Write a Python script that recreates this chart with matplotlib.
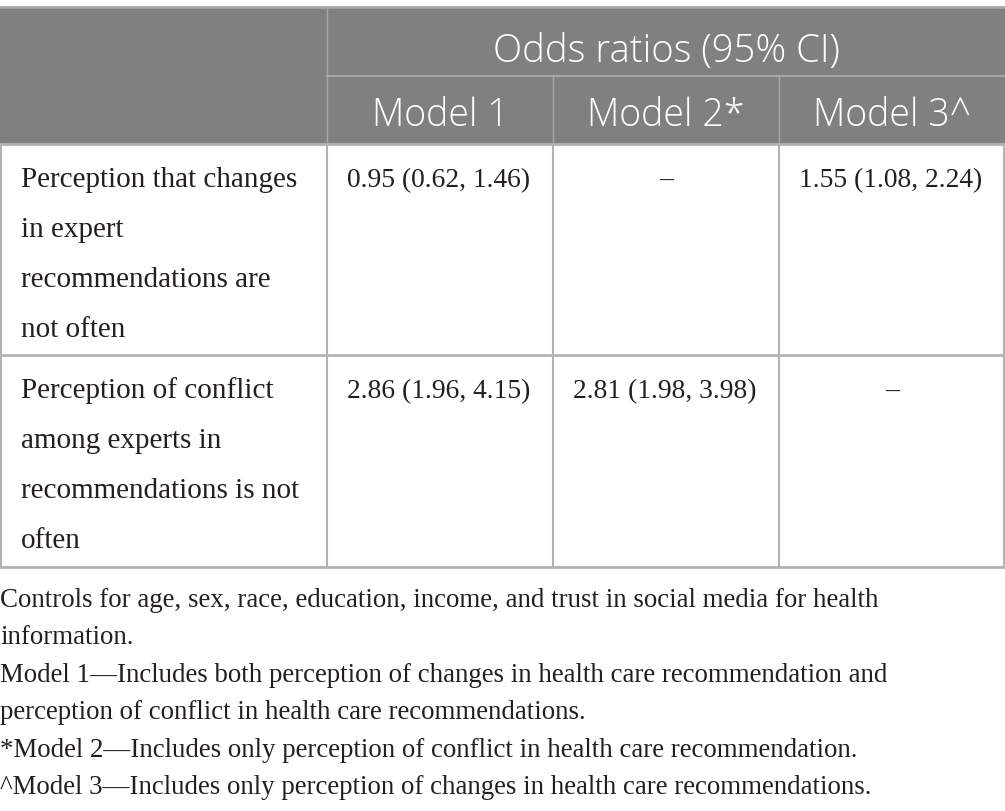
import matplotlib
matplotlib.use("Agg")
import matplotlib.pyplot as plt

# table content
group_header = "Odds ratios (95% CI)"
model_names = ["Model 1", "Model 2*", "Model 3^"]
row_labels = [
    ["Perception that changes", "in expert", "recommendations are", "not often"],
    ["Perception of conflict", "among experts in", "recommendations is not", "often"],
]
model1_or = ["0.95 (0.62, 1.46)", "2.86 (1.96, 4.15)"]
model2_or = ["–", "2.81 (1.98, 3.98)"]
model3_or = ["1.55 (1.08, 2.24)", "–"]
footnotes = [
    "Controls for age, sex, race, education, income, and trust in social media for health",
    "information.",
    "Model 1—Includes both perception of changes in health care recommendation and",
    "perception of conflict in health care recommendations.",
    "*Model 2—Includes only perception of conflict in health care recommendation.",
    "^Model 3—Includes only perception of changes in health care recommendations.",
]

W, H = 1005, 812
fig = plt.figure(figsize=(W / 100, H / 100), dpi=100)
ax = fig.add_axes([0, 0, 1, 1])
ax.set_xlim(0, W)
ax.set_ylim(H, 0)
ax.axis("off")

col_x = [0, 327, 553, 779, 1005]
head_top, head_mid, head_bot = 8, 77, 145
row_bot = [356, 568]
header_bg = "#808080"
line_col = "#b3b3b3"
text_col = "#231f20"
serif = ["Liberation Serif", "DejaVu Serif"]
sans = ["Open Sans", "DejaVu Sans"]

# header background
ax.add_patch(plt.Rectangle((0, head_top), W, head_bot - head_top,
                           facecolor=header_bg, edgecolor="none"))
ax.plot([0, W], [head_top, head_top], color="#a6a6a6", lw=2)
ax.plot([col_x[1], W], [head_mid, head_mid], color="#a6a6a6", lw=1.5)
for x in col_x[2:4]:
    ax.plot([x, x], [head_mid, head_bot], color="#a6a6a6", lw=1)
ax.plot([col_x[1], col_x[1]], [head_top, head_bot], color="#a6a6a6", lw=1)

ax.text((col_x[1] + W) / 2, 62, group_header, ha="center", va="baseline",
        color="white", fontsize=27.5, family=sans, fontweight="light")
for i, name in enumerate(model_names):
    ax.text((col_x[i + 1] + col_x[i + 2]) / 2, 126, name, ha="center",
            va="baseline", color="white", fontsize=27, family=sans,
            fontweight="light")

# body grid
for y in [head_bot] + row_bot:
    ax.plot([0, W], [y, y], color=line_col, lw=2)
for x in col_x:
    xx = min(max(x, 0.75), W - 0.75)
    ax.plot([xx, xx], [head_bot, row_bot[-1]], color=line_col, lw=1.5)

# body text
line_gap = 50
row_tops = [head_bot, row_bot[0]]
for r, lines in enumerate(row_labels):
    base = row_tops[r] + 42
    for k, line in enumerate(lines):
        ax.text(21, base + k * line_gap, line, ha="left", va="baseline",
                color=text_col, fontsize=21, family=serif)
    for c, vals in enumerate([model1_or, model2_or, model3_or]):
        v = vals[r]
        if v == "–":
            ax.text((col_x[c + 1] + col_x[c + 2]) / 2, base, v, ha="center",
                    va="baseline", color=text_col, fontsize=19.8, family=serif)
        else:
            ax.text(col_x[c + 1] + 20, base, v, ha="left", va="baseline",
                    color=text_col, fontsize=19.8, family=serif)

# footnotes
for k, line in enumerate(footnotes):
    ax.text(0, 607 + k * 37.4, line, ha="left", va="baseline",
            color=text_col, fontsize=19.4, family=serif)

fig.savefig("out.png", dpi=100, facecolor="white")
